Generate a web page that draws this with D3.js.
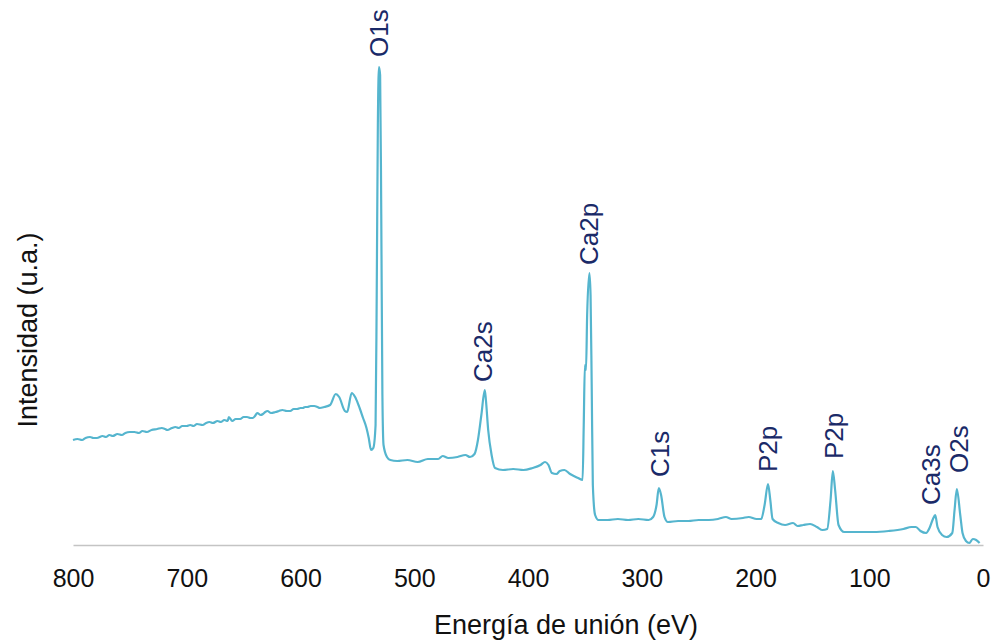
<!DOCTYPE html>
<html>
<head>
<meta charset="utf-8">
<script src="https://cdn.jsdelivr.net/npm/d3@7"></script>
<style>
  html, body { margin: 0; padding: 0; background: #ffffff; }
  svg { display: block; font-family: "Liberation Sans", Arial, Helvetica, sans-serif; }
</style>
</head>
<body>
<svg id="chart" width="1001" height="642"></svg>
<script>
// Binding energy (eV) of each sampled point
const energy = [
  800, 796, 792, 789, 785, 782, 779, 774, 771, 768, 765, 761, 757, 754, 750, 746, 742, 739, 735, 731,
  726, 722, 719, 717, 713, 710, 707, 704, 700, 697, 694, 691, 686, 683, 680, 677, 673, 670, 667, 664,
  663, 660, 657, 653, 650, 647, 644, 642, 640, 638, 635, 633, 631, 629, 626, 622, 619, 616, 612, 609,
  606, 603, 600, 598, 596, 594, 591, 588, 585, 583, 579,
  574, 569, 566, 561, 559, 555, 552, 549, 545, 542, 540, 538, 536, 534, 533, 532, 531, 530, 529, 528,
  527, 524, 521, 515, 506, 497, 488, 479, 475, 470, 462, 455, 451, 447, 444, 441, 438, 437, 435, 432,
  429, 422, 413, 404, 396, 389, 385, 382, 379, 375, 372, 368, 363, 356, 352, 351, 350, 349, 348, 346,
  345, 344, 343, 341, 338, 330, 321, 312, 303, 294, 290, 287, 285, 283, 280, 277, 268, 259, 250, 241,
  233, 226, 221, 211, 206, 199, 195, 192, 189, 187, 185, 180, 174, 167, 163, 158, 152, 146, 141, 137,
  134, 132, 130, 127, 122, 109, 96, 83, 70, 63, 59, 55, 50, 47, 44, 42, 40, 36, 32, 27,
  25, 23, 20, 18, 15, 12, 9, 6, 3
];
// Intensity (arbitrary units) at each energy
const intensity = [
  105, 106, 105, 107, 108, 107, 107, 109, 108, 110, 109, 111, 110, 112, 113, 113, 112, 114, 113, 115,
  116, 117, 116, 115, 117, 118, 117, 119, 119, 120, 119, 121, 120, 122, 123, 122, 124, 123, 125, 124,
  128, 124, 126, 126, 128, 128, 127, 127, 129, 132, 130, 131, 133, 134, 132, 133, 134, 135, 134, 134,
  136, 136, 137, 137, 138, 138, 139, 139, 138, 137, 138,
  140, 151, 148, 134, 133, 152, 148, 140, 127, 117, 107, 95, 97, 120, 250, 420, 478, 470, 330, 150,
  100, 88, 85, 84, 85, 83, 86, 86, 89, 87, 88, 90, 88, 91, 105, 130, 155, 145, 115, 90,
  77, 75, 76, 75, 77, 80, 83, 80, 72, 71, 74, 75, 71, 67, 65, 120, 180, 175, 230, 272,
  250, 160, 60, 30, 25, 25, 26, 25, 26, 25, 28, 40, 57, 50, 28, 23, 24, 24, 25, 25,
  26, 28, 26, 27, 28, 26, 26, 40, 61, 45, 26, 22, 20, 22, 19, 20, 21, 18, 15, 16,
  45, 74, 55, 20, 13, 13, 13, 14, 16, 18, 18, 14, 12, 17, 26, 30, 18, 10, 8, 12,
  35, 56, 30, 12, 4, 2, 6, 5, 2
];
// Peak annotations
const peakNames = ["O1s", "Ca2s", "Ca2p", "C1s", "P2p", "P2p", "Ca3s", "O2s"];
const peakEnergy = [531, 440, 347, 284, 189, 131, 46, 21];
const peakLabelLevel = [488, 163, 280, 68, 73, 86, 40, 72];
// Axis ticks
const xTicks = [800, 700, 600, 500, 400, 300, 200, 100, 0];

const svg = d3.select("#chart");
const x = d3.scaleLinear().domain([800, 0]).range([73, 983]);
const y = d3.scaleLinear().domain([0, 500]).range([545, 45]);

// x axis
const xAxis = d3.axisBottom(x).tickValues(xTicks).tickSize(0).tickPadding(24).tickFormat(d3.format("d"));
const gx = svg.append("g").attr("transform", `translate(0,${y(0)})`).call(xAxis);
gx.select(".domain").attr("stroke", "#c4c4c4").attr("stroke-width", 1.5);
gx.selectAll("text").attr("font-size", 25).attr("fill", "#111").attr("font-family", "Liberation Sans, Arial, sans-serif");

// spectrum line
const pts = energy.map((e, i) => [e, intensity[i]]);
const line = d3.line().x(d => x(d[0])).y(d => y(d[1])).curve(d3.curveMonotoneX);
svg.append("path")
  .datum(pts)
  .attr("fill", "none")
  .attr("stroke", "#55b5ce")
  .attr("stroke-width", 2.2)
  .attr("stroke-linejoin", "round")
  .attr("d", line);

// peak labels
svg.append("g").selectAll("text")
  .data(peakNames)
  .join("text")
  .attr("transform", (d, i) => `translate(${x(peakEnergy[i])},${y(peakLabelLevel[i])}) rotate(-90)`)
  .attr("dy", "0.36em")
  .attr("text-anchor", "start")
  .attr("font-size", 26)
  .attr("fill", "#1a2a68")
  .text(d => d);

// axis titles
svg.append("text")
  .attr("x", 566).attr("y", 634)
  .attr("text-anchor", "middle")
  .attr("font-size", 27)
  .attr("fill", "#111")
  .text("Energía de unión (eV)");

svg.append("text")
  .attr("transform", "translate(37,330) rotate(-90)")
  .attr("text-anchor", "middle")
  .attr("font-size", 27)
  .attr("fill", "#111")
  .text("Intensidad (u.a.)");
</script>
</body>
</html>
